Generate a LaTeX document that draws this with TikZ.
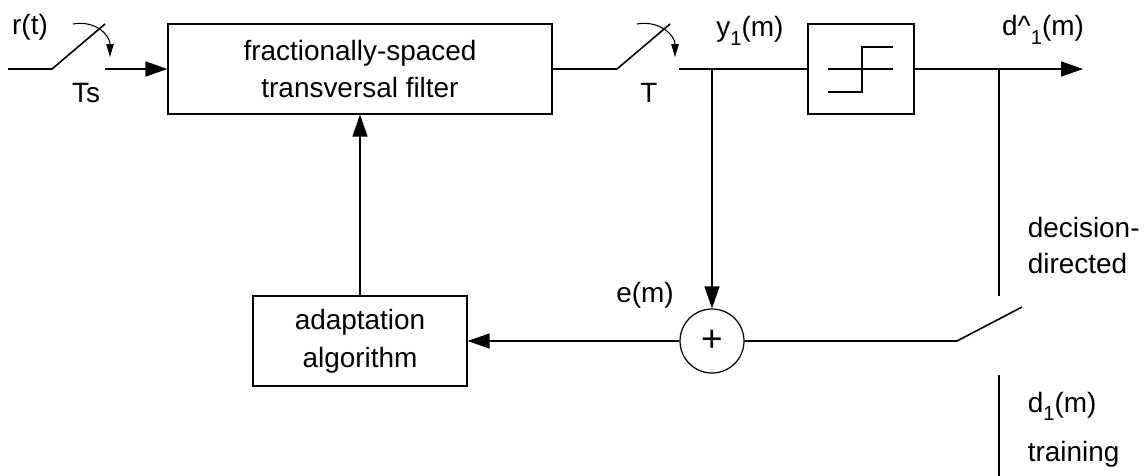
\documentclass[tikz,border=0pt]{standalone}
\usepackage{fontspec}
\setmainfont{Liberation Sans}
\usetikzlibrary{arrows.meta}
\newcommand{\lowsub}[1]{\raisebox{-0.55ex}{\fontsize{11.5}{11.5}\selectfont #1}}

\begin{document}
\begin{tikzpicture}[x=0.02cm,y=-0.02cm,font=\fontsize{15.9}{21.6}\selectfont,line width=0.9pt,
  blk/.style={draw,line width=0.7pt,minimum height=1.8cm,align=center,inner sep=0pt},
  tip/.style={-{Triangle[length=0.44cm,width=0.3cm]}},
  swarr/.style={line width=0.6pt,-{Triangle[length=0.26cm,width=0.15cm]}}]
\useasboundingbox (0,0) rectangle (1145,476);
\node[blk,minimum width=7.68cm] (filt) at (360,69) {fractionally-spaced\\transversal filter};
\node[blk,minimum width=2.12cm] (slic) at (861,69) {};
\node[blk,minimum width=4.28cm] (adap) at (360,341) {adaptation\\algorithm};
\node[draw,circle,line width=0.7pt,minimum size=1.28cm,inner sep=0pt,font=\fontsize{21}{21}\selectfont] (sum) at (712,341) {+};
\coordinate (in) at (8,69); \coordinate (s1a) at (52,69); \coordinate (s1b) at (105,24); \coordinate (s1c) at (105,69);
\coordinate (s2a) at (617,69); \coordinate (s2b) at (670,24); \coordinate (s2c) at (679,69);
\coordinate (br1) at (712,69); \coordinate (br2) at (999,69); \coordinate (out) at (1083,69);
\coordinate (dd) at (999,296); \coordinate (s3a) at (957,341); \coordinate (s3b) at (1022,307);
\coordinate (tr) at (999,375); \coordinate (trend) at (999,476);
\draw (in) -- (s1a) -- (s1b);
\draw[tip] (s1c) -- (filt.west);
\draw (filt.east) -- (s2a) -- (s2b);
\draw (s2c) -- (slic.west);
\draw[tip] (br1) -- (sum.north);
\draw[tip] (slic.east) -- (out);
\draw (br2) -- (dd);
\draw (sum.east) -- (s3a) -- (s3b);
\draw (tr) -- (trend);
\draw[tip] (sum.west) -- (adap.east);
\draw[tip] (adap.north) -- (filt.south);
\draw[line width=0.7pt] (828,69) -- (893,69);
\draw[line width=0.7pt] (828,92) -- (862,92) -- (862,47) -- (893,47);
\draw[swarr] (73,24) .. controls (95,20) and (110,35) .. (110,57);
\draw[swarr] (637,24) .. controls (659,20) and (675,35) .. (675,57);
\node[anchor=base] (rt) at (30,35) {r(t)};
\node[anchor=base] (ts) at (86,103) {Ts};
\node[anchor=base] (tt) at (649,103) {T};
\node[anchor=base] (ym) at (750,37) {y\lowsub{1}(m)};
\node[anchor=base] (dh) at (1043,36) {d\^{}\lowsub{1}(m)};
\node[anchor=base] (em) at (645,302) {e(m)};
\node[anchor=base west,inner xsep=0pt] (dec) at (1027,237) {decision-};
\node[anchor=base west,inner xsep=0pt] (dir) at (1027,273) {directed};
\node[anchor=base west,inner xsep=0pt] (dm) at (1027,412) {d\lowsub{1}(m)};
\node[anchor=base west,inner xsep=0pt] (trn) at (1027,461) {training};
\end{tikzpicture}
\end{document}
